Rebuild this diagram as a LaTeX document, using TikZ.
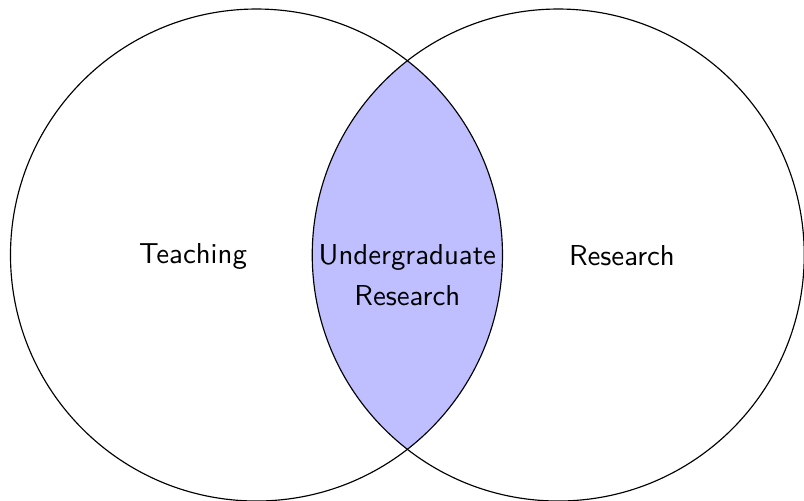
\documentclass[tikz,border=0pt]{standalone}
\usepackage{tikz}
\begin{document}
\begin{tikzpicture}
            \useasboundingbox (-3.128,-2.988) rectangle (6.677,3.110);
            %Overlap
            \begin{scope}
            \clip (0,0) circle (3cm);
            \fill [blue!25] (3.68,0) circle (3cm);
            \end{scope}
            %Circles
            \draw (0,0) circle (3cm);
            \draw (3.68,0) circle (3cm);
            %Labels
            \node [font = \sffamily]
            (teach)at(-0.774,-0.02){Teaching};
            \node [font = \sffamily]
            (res)at(4.457,-0.01){Research};
            \node [font = \sffamily, align = center, anchor = north]
            (ugr)at(1.84,0.25){Undergraduate\\[2pt]Research};

        \end{tikzpicture}
\end{document}
